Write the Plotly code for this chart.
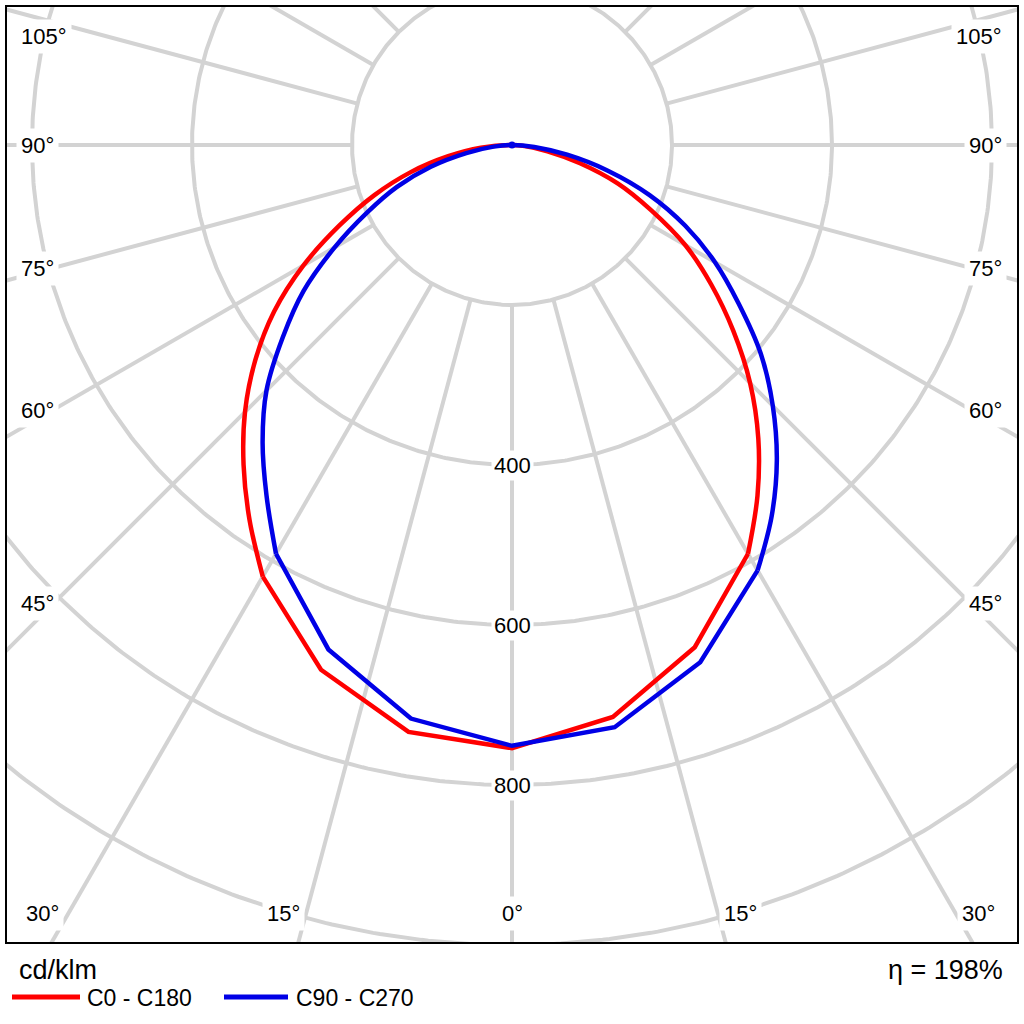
import numpy as np
import plotly.graph_objects as go

# ---------------- data (cd/klm) ----------------
gamma = [0, 10, 20, 30, 35, 40, 45, 50, 55, 60, 65, 70, 75, 80, 85, 90]
c0 = [754, 726, 668, 590, 535, 479, 421, 361, 304, 250, 191, 141, 88, 45, 16, 0]
c180 = [754, 745, 698, 623, 572, 522, 472, 419, 363, 301, 238, 183, 131, 81, 39, 0]
c90 = [751, 739, 688, 614, 566, 515, 461, 406, 346, 293, 239, 183, 124, 70, 28, 0]
c270 = [751, 728, 671, 590, 535, 485, 434, 374, 318, 256, 200, 153, 105, 58, 23, 0]

grid_radii = [200, 400, 600, 800, 1000]
radial_labels = [400, 600, 800]
spoke_step = 15
side_labels = ["105°", "90°", "75°", "60°", "45°"]
bottom_labels = ["30°", "15°", "0°", "15°", "30°"]
unit_label = "cd/klm"
eta_label = "η = 198%"
series_names = ["C0 - C180", "C90 - C270"]

# ---------------- layout constants ----------------
W = H = 1024
X0, X1, Y0, Y1 = 7, 1017, 7, 942     # plot frame in px
CX, CY = 512, 145                    # pole in px
SCALE = 0.8                          # px per cd/klm
SMOOTH_FROM = 30                     # angle above which the curve is drawn smoothly
RED = "rgb(255,0,0)"
BLUE = "rgb(0,0,230)"
GRID = "rgb(211,211,211)"
FONT = "Liberation Sans, Arial, sans-serif"

side_y_px = [36, 145, 268, 410, 603]
bottom_x_px = [42, 283, 512, 740, 978]
bottom_y_px = 913


def half(vals, sign, lo, hi):
    g = np.array(gamma, dtype=float)
    v = np.array(vals, dtype=float)
    m = (g >= lo) & (g <= hi)
    gr = np.radians(g[m])
    return sign * v[m] * np.sin(gr), -v[m] * np.cos(gr)


def curve(left, right, lo, hi, through_top):
    xl, yl = half(left, -1, lo, hi)
    xr, yr = half(right, 1, lo, hi)
    if through_top:
        # left side from lo up to the top, then right side back down
        return (np.concatenate([xl, xr[::-1][1:]]),
                np.concatenate([yl, yr[::-1][1:]]))
    # left side from lo down to 0°, then right side up to lo
    return (np.concatenate([xl[::-1], xr[1:]]),
            np.concatenate([yl[::-1], yr[1:]]))


fig = go.Figure()

# grid circles and spokes
gx, gy = [], []
t = np.radians(np.linspace(0, 360, 721))
for r in grid_radii:
    gx += list(r * np.sin(t)) + [None]
    gy += list(-r * np.cos(t)) + [None]
for a in range(0, 360, spoke_step):
    ar = np.radians(a)
    r0, r1 = grid_radii[0], 1400
    gx += [r0 * np.sin(ar), r1 * np.sin(ar), None]
    gy += [-r0 * np.cos(ar), -r1 * np.cos(ar), None]
fig.add_trace(go.Scatter(x=gx, y=gy, mode="lines",
                         line=dict(color=GRID, width=4),
                         hoverinfo="skip", showlegend=False))

for left, right, color, name in [(c180, c0, RED, series_names[0]),
                                 (c270, c90, BLUE, series_names[1])]:
    xa, ya = curve(left, right, 0, SMOOTH_FROM, False)
    fig.add_trace(go.Scatter(x=xa, y=ya, mode="lines", name=name,
                             line=dict(color=color, width=4.5), showlegend=False))
    xb, yb = curve(left, right, SMOOTH_FROM, 90, True)
    fig.add_trace(go.Scatter(x=xb, y=yb, mode="lines", name=name,
                             line=dict(color=color, width=4.5, shape="spline",
                                       smoothing=1.0),
                             showlegend=False))
    top = len(xb) // 2

# pole dot at the top end of the blue curve
fig.add_trace(go.Scatter(x=[xb[top]], y=[yb[top]], mode="markers",
                         marker=dict(color=BLUE, size=7),
                         hoverinfo="skip", showlegend=False))

xmin = (X0 - CX) / SCALE
xmax = (X1 - CX) / SCALE
ymax = (CY - Y0) / SCALE
ymin = (CY - Y1) / SCALE

fig.update_xaxes(range=[xmin, xmax], domain=[X0 / W, X1 / W],
                 showgrid=False, zeroline=False, showticklabels=False,
                 showline=True, mirror=True, linecolor="black", linewidth=2,
                 fixedrange=True)
fig.update_yaxes(range=[ymin, ymax], domain=[1 - Y1 / H, 1 - Y0 / H],
                 showgrid=False, zeroline=False, showticklabels=False,
                 showline=True, mirror=True, linecolor="black", linewidth=2,
                 fixedrange=True)

ann = []
for v in radial_labels:
    ann.append(dict(x=0, y=-v, xref="x", yref="y", text=str(v), showarrow=False,
                    font=dict(family=FONT, size=22, color="black"),
                    bgcolor="white", borderpad=2))
for txt, ypx in zip(side_labels, side_y_px):
    ann.append(dict(x=16 / W, y=1 - ypx / H, xref="paper", yref="paper", text=txt,
                    showarrow=False, xanchor="left", yanchor="middle",
                    font=dict(family=FONT, size=22, color="black"),
                    bgcolor="white", borderpad=4))
    ann.append(dict(x=1007 / W, y=1 - ypx / H, xref="paper", yref="paper", text=txt,
                    showarrow=False, xanchor="right", yanchor="middle",
                    font=dict(family=FONT, size=22, color="black"),
                    bgcolor="white", borderpad=4))
for txt, xpx in zip(bottom_labels, bottom_x_px):
    ann.append(dict(x=xpx / W, y=1 - bottom_y_px / H, xref="paper", yref="paper",
                    text=txt, showarrow=False, xanchor="center", yanchor="middle",
                    font=dict(family=FONT, size=22, color="black"),
                    bgcolor="white", borderpad=4))
ann.append(dict(x=17 / W, y=1 - 970 / H, xref="paper", yref="paper", text=unit_label,
                showarrow=False, xanchor="left", yanchor="middle",
                font=dict(family=FONT, size=27, color="black")))
ann.append(dict(x=1005 / W, y=1 - 970 / H, xref="paper", yref="paper", text=eta_label,
                showarrow=False, xanchor="right", yanchor="middle",
                font=dict(family=FONT, size=27, color="black")))
ann.append(dict(x=85 / W, y=1 - 998 / H, xref="paper", yref="paper", text=series_names[0],
                showarrow=False, xanchor="left", yanchor="middle",
                font=dict(family=FONT, size=23, color="black")))
ann.append(dict(x=294 / W, y=1 - 998 / H, xref="paper", yref="paper", text=series_names[1],
                showarrow=False, xanchor="left", yanchor="middle",
                font=dict(family=FONT, size=23, color="black")))

shapes = [
    dict(type="line", xref="paper", yref="paper", x0=12 / W, x1=80 / W,
         y0=1 - 997 / H, y1=1 - 997 / H, line=dict(color=RED, width=5)),
    dict(type="line", xref="paper", yref="paper", x0=224 / W, x1=288 / W,
         y0=1 - 997 / H, y1=1 - 997 / H, line=dict(color=BLUE, width=5)),
]

fig.update_layout(width=W, height=H, margin=dict(l=0, r=0, t=0, b=0),
                  paper_bgcolor="white", plot_bgcolor="white",
                  annotations=ann, shapes=shapes, showlegend=False)

fig.write_html("out.html")
